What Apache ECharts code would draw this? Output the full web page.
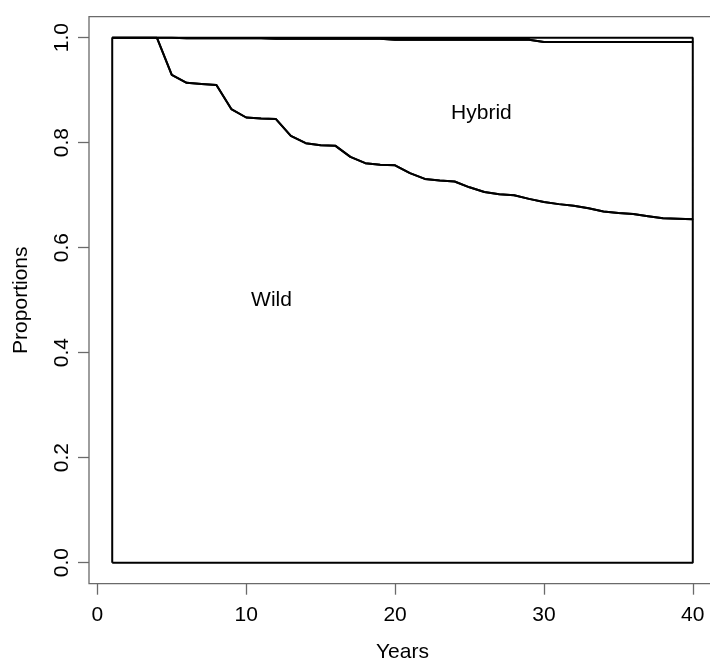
<!DOCTYPE html>
<html>
<head>
<meta charset="utf-8">
<script src="https://cdn.jsdelivr.net/npm/echarts@6/dist/echarts.min.js"></script>
<style>
html,body{margin:0;padding:0;background:#fff;}
#chart{width:710px;height:664px;}
</style>
</head>
<body>
<div id="chart"></div>
<script>
// ---- data ----
var years = [];
for (var i = 1; i <= 40; i++) years.push(i);
var wildTop = [1, 1, 1, 1, 0.929, 0.914, 0.912, 0.910, 0.864, 0.848,
               0.846, 0.845, 0.813, 0.799, 0.795, 0.794, 0.773, 0.761, 0.758, 0.757,
               0.742, 0.731, 0.728, 0.726, 0.715, 0.706, 0.702, 0.700, 0.693, 0.687,
               0.683, 0.680, 0.675, 0.669, 0.666, 0.664, 0.660, 0.656, 0.655, 0.654];
var hybridTop = [1, 1, 1, 1, 1, 0.999, 0.999, 0.999, 0.999, 0.999,
                 0.999, 0.998, 0.998, 0.998, 0.998, 0.998, 0.998, 0.998, 0.998, 0.996,
                 0.996, 0.996, 0.996, 0.996, 0.996, 0.996, 0.996, 0.996, 0.996, 0.992,
                 0.992, 0.992, 0.992, 0.992, 0.992, 0.992, 0.992, 0.992, 0.992, 0.992];
var totalTop = years.map(function () { return 1; });
var baseline = years.map(function () { return 0; });
var xTicks = [0, 10, 20, 30, 40];
var yTicks = [0, 0.2, 0.4, 0.6, 0.8, 1.0];
var regionLabels = [
  { name: 'Wild', x: 11.7, y: 0.5 },
  { name: 'Hybrid', x: 25.8, y: 0.856 }
];

// polygon outline: along lower boundary then back along upper boundary
function polygon(lower, upper) {
  var pts = [];
  for (var i = 0; i < years.length; i++) pts.push([years[i], lower[i]]);
  for (var j = years.length - 1; j >= 0; j--) pts.push([years[j], upper[j]]);
  pts.push([years[0], lower[0]]);
  return pts;
}

var FONT = 'Liberation Sans, Arial, sans-serif';
var lineStyle = { color: '#000', width: 2 };

var chart = echarts.init(document.getElementById('chart'), null, { renderer: 'canvas' });
chart.setOption({
  backgroundColor: '#fff',
  animation: false,
  grid: {
    left: 89, right: -6, top: 16.7, bottom: 80.3,
    containLabel: false, outerBoundsMode: 'none',
    show: true, borderColor: '#6a6a6a', borderWidth: 1.3, backgroundColor: 'transparent'
  },
  xAxis: {
    type: 'value', min: -0.56, max: 41.56,
    name: 'Years', nameLocation: 'middle', nameGap: 58,
    nameTextStyle: { fontFamily: FONT, fontSize: 21, color: '#000' },
    axisLine: { show: false, onZero: false },
    splitLine: { show: false },
    axisTick: { show: true, length: 11, customValues: xTicks, lineStyle: { color: '#6a6a6a', width: 1.3 } },
    axisLabel: { customValues: xTicks, margin: 21, fontFamily: FONT, fontSize: 21, color: '#000',
                 hideOverlap: false, formatter: function (v) { return String(v); } }
  },
  yAxis: {
    type: 'value', min: -0.04, max: 1.04,
    name: 'Proportions', nameLocation: 'middle', nameGap: 57, nameRotate: 90,
    nameTextStyle: { fontFamily: FONT, fontSize: 21, color: '#000' },
    axisLine: { show: false, onZero: false },
    splitLine: { show: false },
    axisTick: { show: true, length: 11, customValues: yTicks, lineStyle: { color: '#6a6a6a', width: 1.3 } },
    axisLabel: { customValues: yTicks, rotate: 90, margin: 16, fontFamily: FONT, fontSize: 21, color: '#000',
                 formatter: function (v) { return v.toFixed(1); } }
  },
  series: [
    { type: 'line', name: 'Wild', data: polygon(baseline, wildTop), symbol: 'none',
      lineStyle: lineStyle, clip: false, z: 3 },
    { type: 'line', name: 'Hybrid', data: polygon(wildTop, hybridTop), symbol: 'none',
      lineStyle: lineStyle, clip: false, z: 3 },
    { type: 'line', name: 'Other', data: polygon(hybridTop, totalTop), symbol: 'none',
      lineStyle: lineStyle, clip: false, z: 3 },
    { type: 'scatter', data: regionLabels.map(function (r) { return { value: [r.x, r.y], name: r.name }; }),
      symbolSize: 1, itemStyle: { color: '#fff', opacity: 1 }, silent: true,
      label: { show: true, position: 'inside', formatter: '{b}', fontFamily: FONT, fontSize: 21,
               color: '#000', opacity: 1, textBorderWidth: 0 },
      z: 5 }
  ]
});
</script>
</body>
</html>
